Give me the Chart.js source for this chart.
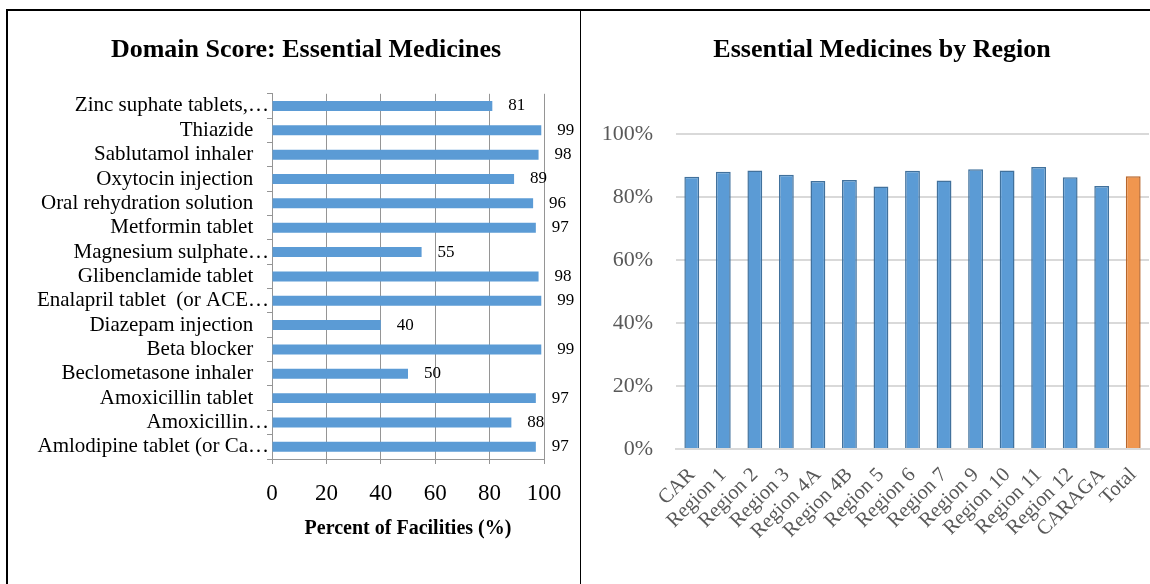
<!DOCTYPE html>
<html><head><meta charset="utf-8">
<script src="https://cdn.jsdelivr.net/npm/chart.js@4.4.0/dist/chart.umd.min.js"></script>
<style>
html,body{margin:0;padding:0;background:#fff;overflow:hidden;width:1150px;height:584px;}
.ln{position:absolute;background:#000;z-index:5;}
#lineTop{left:6px;top:9px;width:1144px;height:2px;}
#lineLeft{left:6px;top:9px;width:2px;height:575px;}
#lineMid{left:580px;top:9px;width:1px;height:575px;}
#w1{position:absolute;left:8px;top:11px;width:596px;height:573px;z-index:2;}
#w2{position:absolute;left:581px;top:11px;width:602px;height:573px;z-index:1;}
</style></head><body>
<div id="w1"><canvas id="c1"></canvas></div>
<div id="w2"><canvas id="c2"></canvas></div>
<div class="ln" id="lineTop"></div><div class="ln" id="lineLeft"></div><div class="ln" id="lineMid"></div>
<script>
const medicines = [
  'Zinc suphate tablets,…',
  'Thiazide',
  'Sablutamol inhaler',
  'Oxytocin injection',
  'Oral rehydration solution',
  'Metformin tablet',
  'Magnesium sulphate…',
  'Glibenclamide tablet',
  'Enalapril tablet  (or ACE…',
  'Diazepam injection',
  'Beta blocker',
  'Beclometasone inhaler',
  'Amoxicillin tablet',
  'Amoxicillin…',
  'Amlodipine tablet (or Ca…'
];
const medicinePercent = [81, 99, 98, 89, 96, 97, 55, 98, 99, 40, 99, 50, 97, 88, 97];
const percentTicks = [0, 20, 40, 60, 80, 100];

const regions = ['CAR','Region 1','Region 2','Region 3','Region 4A','Region 4B','Region 5','Region 6','Region 7','Region 9','Region 10','Region 11','Region 12','CARAGA','Total'];
const regionScore = [86.4, 88.0, 88.4, 87.1, 85.1, 85.4, 83.3, 88.3, 85.2, 88.8, 88.4, 89.5, 86.3, 83.5, 86.6];
const regionTicks = [0, 20, 40, 60, 80, 100];

const SERIF = '"Liberation Serif", "Times New Roman", serif';

const valueLabels = {
  id: 'valueLabels',
  afterDatasetsDraw(chart) {
    const ctx = chart.ctx;
    const meta = chart.getDatasetMeta(0);
    const vals = chart.data.datasets[0].data;
    ctx.save();
    ctx.font = '17px ' + SERIF;
    ctx.fillStyle = '#000';
    ctx.textAlign = 'left';
    ctx.textBaseline = 'middle';
    meta.data.forEach((bar, i) => {
      ctx.fillText(String(vals[i]), bar.x + 16, bar.y);
    });
    ctx.restore();
  }
};

// invisible right-hand spacer axis so the title centres where the reference has it
function spacerAxis(w) {
  return {
    type: 'linear', position: 'right', display: true,
    grid: { display: false, drawTicks: false }, border: { display: false },
    ticks: { display: false },
    afterFit(s) { s.width = w; s.paddingTop = 0; s.paddingBottom = 0; }
  };
}

new Chart(document.getElementById('c1'), {
  type: 'bar',
  data: {
    labels: medicines,
    datasets: [{
      data: medicinePercent,
      backgroundColor: '#5B9BD5',
      borderWidth: 0,
      barPercentage: 0.41,
      categoryPercentage: 1
    }]
  },
  plugins: [valueLabels],
  options: {
    indexAxis: 'y',
    responsive: true,
    maintainAspectRatio: false,
    animation: false,
    layout: { padding: { left: 0, right: 0, top: 0, bottom: 0 } },
    plugins: {
      legend: { display: false },
      tooltip: { enabled: false },
      title: {
        display: true,
        text: 'Domain Score: Essential Medicines',
        color: '#000',
        font: { family: SERIF, size: 26, weight: 'bold', lineHeight: 1.2 },
        padding: { top: 23.4, bottom: 28.2 }
      }
    },
    scales: {
      x: {
        min: 0, max: 100,
        afterBuildTicks(s) { s.ticks = percentTicks.map(v => ({ value: v })); },
        grid: { color: '#959595', lineWidth: 1, tickLength: 5, drawTicks: true },
        border: { color: '#959595', width: 1 },
        ticks: { color: '#000', font: { family: SERIF, size: 23 }, padding: 16, maxRotation: 0 },
        title: {
          display: true,
          text: 'Percent of Facilities (%)',
          color: '#000',
          font: { family: SERIF, size: 20, weight: 'bold', lineHeight: 1.2 },
          padding: { top: 0, bottom: 43 }
        },
        afterFit(s) { s.height = 125; s.paddingLeft = 0; s.paddingRight = 0; }
      },
      y: {
        grid: { display: true, drawOnChartArea: false, color: '#959595', tickLength: 5, offset: true },
        border: { color: '#959595', width: 1 },
        ticks: {
          color: '#000',
          font: { family: SERIF, size: 21 },
          padding: -2,
          autoSkip: false,
          callback(v, i) { const l = medicines[i]; return l.endsWith('…') ? l : l + '   '; }
        },
        afterFit(s) { s.width = 264; s.paddingTop = 0; s.paddingBottom = 0; }
      },
      spacer: spacerAxis(60)
    }
  }
});

new Chart(document.getElementById('c2'), {
  type: 'bar',
  data: {
    labels: regions,
    datasets: [{
      data: regionScore,
      backgroundColor: c => regions[c.dataIndex] === 'Total' ? '#F0964F' : '#5B9BD5',
      borderColor: c => regions[c.dataIndex] === 'Total' ? '#B8662A' : '#41719C',
      borderWidth: 1.5,
      barPercentage: 0.47,
      categoryPercentage: 1
    }]
  },
  options: {
    responsive: true,
    maintainAspectRatio: false,
    animation: false,
    layout: { padding: { left: 0, right: 0, top: 0, bottom: 0 } },
    plugins: {
      legend: { display: false },
      tooltip: { enabled: false },
      title: {
        display: true,
        text: 'Essential Medicines by Region',
        color: '#000',
        font: { family: SERIF, size: 26, weight: 'bold', lineHeight: 1.2 },
        padding: { top: 23.4, bottom: 68.4 }
      }
    },
    scales: {
      x: {
        grid: { display: false, drawTicks: false },
        border: { display: true, color: '#D9D9D9', width: 2 },
        ticks: { color: '#595959', font: { family: SERIF, size: 20.5 }, minRotation: 45, maxRotation: 45, padding: 14, autoSkip: false },
        afterFit(s) { s.height = 135; s.paddingLeft = 0; s.paddingRight = 0; }
      },
      y: {
        min: 0, max: 100,
        afterBuildTicks(s) { s.ticks = regionTicks.map(v => ({ value: v })); },
        grid: { color: '#D9D9D9', lineWidth: 2, drawTicks: false },
        border: { display: false },
        ticks: { color: '#595959', font: { family: SERIF, size: 22 }, padding: 23, callback: v => v + '%' },
        afterFit(s) { s.width = 95; s.paddingTop = 0; s.paddingBottom = 0; }
      },
      spacer: spacerAxis(34)
    }
  }
});
</script>
</body></html>
